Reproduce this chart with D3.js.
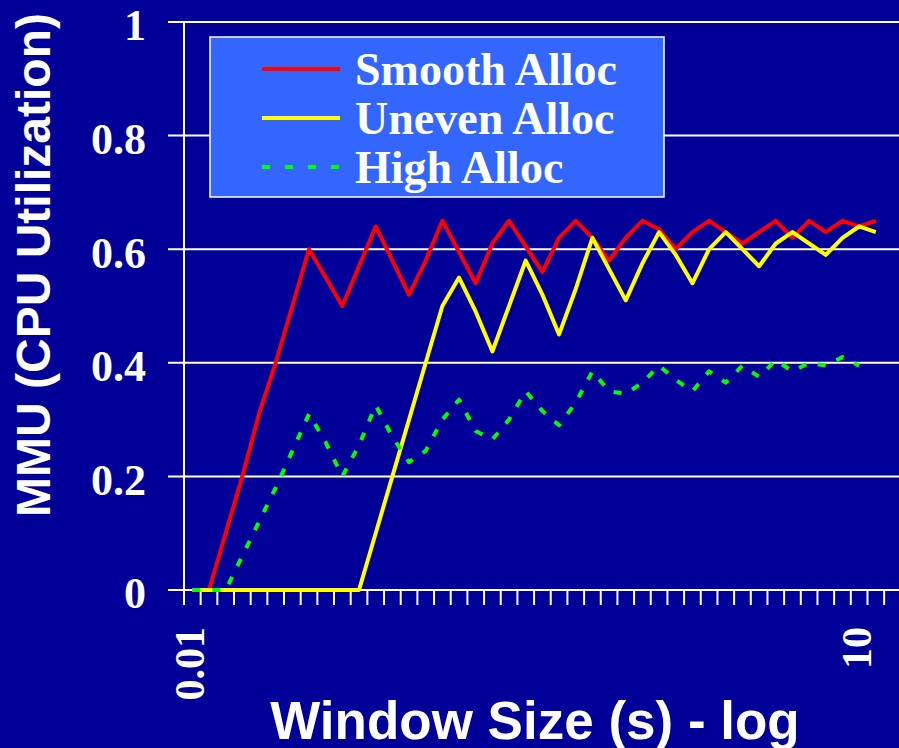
<!DOCTYPE html>
<html>
<head>
<meta charset="utf-8">
<script src="https://cdn.jsdelivr.net/npm/d3@7"></script>
<style>
  html, body { margin: 0; padding: 0; background: #000099; }
  svg { display: block; }
</style>
</head>
<body>
<svg id="chart" width="899" height="748"></svg>
<script>
// window sizes (s), one category per quarter-doubling
const windowSizes = [0.01, 0.01189, 0.01414, 0.01682, 0.02, 0.02378, 0.02828, 0.03364,
  0.04, 0.04757, 0.05657, 0.06727, 0.08, 0.09514, 0.11314, 0.13454,
  0.16, 0.19027, 0.22627, 0.26909, 0.32, 0.38055, 0.45255, 0.53817,
  0.64, 0.7611, 0.9051, 1.07635, 1.28, 1.5222, 1.8102, 2.1527,
  2.56, 3.0444, 3.6204, 4.3054, 5.12, 6.0887, 7.2408, 8.6108,
  10.24, 12.177, 14.482];
const xLabelAt = [0.01, 10.24];
const xLabelText = ["0.01", "10"];
const yTicks = [0, 0.2, 0.4, 0.6, 0.8, 1];

const smoothAlloc = [0, 0, 0.10, 0.20, 0.31, 0.40, 0.50, 0.60, 0.55, 0.50, 0.57, 0.64,
  0.58, 0.52, 0.58, 0.65, 0.595, 0.54, 0.61, 0.65, 0.605, 0.56, 0.62, 0.65,
  0.62, 0.58, 0.62, 0.65, 0.635, 0.60, 0.63, 0.65, 0.63, 0.61, 0.63, 0.65,
  0.62, 0.65, 0.63, 0.65, 0.64, 0.65];
const unevenAlloc = [0, 0, 0, 0, 0, 0, 0, 0, 0, 0, 0, 0.10,
  0.20, 0.30, 0.40, 0.50, 0.55, 0.49, 0.42, 0.50, 0.58, 0.52, 0.45, 0.53,
  0.62, 0.565, 0.51, 0.575, 0.63, 0.59, 0.54, 0.60, 0.63, 0.60, 0.57, 0.61,
  0.63, 0.61, 0.59, 0.62, 0.64, 0.63];
const highAlloc = [0, 0, 0, 0.06, 0.12, 0.18, 0.245, 0.31, 0.26, 0.20, 0.255, 0.325,
  0.27, 0.225, 0.245, 0.30, 0.335, 0.28, 0.265, 0.30, 0.35, 0.315, 0.29, 0.33,
  0.385, 0.35, 0.345, 0.365, 0.395, 0.37, 0.35, 0.385, 0.365, 0.395, 0.375, 0.405,
  0.385, 0.40, 0.395, 0.41, 0.395];

const seriesNames = ["Smooth Alloc", "Uneven Alloc", "High Alloc"];
const seriesColors = ["#ff0000", "#ffff00", "#00ff00"];

const W = 899, H = 748;
const plotLeft = 184, plotBottom = 590, plotTop = 22;

const svg = d3.select("#chart");
svg.append("rect").attr("width", W).attr("height", H).attr("fill", "#000099");

const x = d3.scaleBand().domain(windowSizes).range([plotLeft, plotLeft + 16.67 * windowSizes.length]);
const y = d3.scaleLinear().domain([0, 1]).range([plotBottom, plotTop]);

// horizontal grid + y ticks
svg.append("g").selectAll("line").data(yTicks).join("line")
  .attr("x1", plotLeft - 16).attr("x2", W)
  .attr("y1", d => y(d)).attr("y2", d => y(d))
  .attr("stroke", "#fff").attr("stroke-width", 2);

svg.append("g").selectAll("text").data(yTicks).join("text")
  .attr("x", 146).attr("y", d => y(d)).attr("dy", "0.42em")
  .attr("text-anchor", "end")
  .attr("font-family", "Liberation Serif, Times New Roman, serif")
  .attr("font-weight", "bold").attr("font-size", 44).attr("fill", "#fff")
  .text(d => d3.format("~g")(d));

// y axis line
svg.append("line").attr("x1", plotLeft).attr("x2", plotLeft).attr("y1", plotTop).attr("y2", plotBottom)
  .attr("stroke", "#fff").attr("stroke-width", 2);

// x tick marks at category boundaries
svg.append("g").selectAll("line").data(windowSizes).join("line")
  .attr("x1", d => x(d)).attr("x2", d => x(d))
  .attr("y1", plotBottom).attr("y2", plotBottom + 15)
  .attr("stroke", "#fff").attr("stroke-width", 2);

svg.append("g").selectAll("text").data(xLabelAt).join("text")
  .attr("transform", d => `translate(${x(d) + x.bandwidth() / 2 - 3},627) rotate(-90)`)
  .attr("text-anchor", "end").attr("dy", "0.35em")
  .attr("font-family", "Liberation Serif, Times New Roman, serif")
  .attr("font-weight", "bold").attr("font-size", 42).attr("fill", "#fff")
  .text((d, i) => xLabelText[i]);

// series
const line = d3.line()
  .x((d, i) => x(windowSizes[i]) + x.bandwidth() / 2)
  .y(d => y(d));

[smoothAlloc, unevenAlloc, highAlloc].forEach((vals, i) => {
  svg.append("path").datum(vals)
    .attr("d", line)
    .attr("fill", "none")
    .attr("stroke", seriesColors[i])
    .attr("stroke-width", 4)
    .attr("stroke-linejoin", "round")
    .attr("stroke-dasharray", i === 2 ? "8,12" : null);
});

// legend
const lg = svg.append("g");
lg.append("rect").attr("x", 210).attr("y", 37).attr("width", 454).attr("height", 160)
  .attr("fill", "#3366ff").attr("stroke", "#fff").attr("stroke-width", 1.5);
seriesNames.forEach((name, i) => {
  const ly = 69 + i * 49;
  lg.append("line").attr("x1", 262).attr("x2", 340).attr("y1", ly).attr("y2", ly)
    .attr("stroke", seriesColors[i]).attr("stroke-width", 4)
    .attr("stroke-dasharray", i === 2 ? "8,15" : null);
  lg.append("text").attr("x", 355).attr("y", ly + 16)
    .attr("font-family", "Liberation Serif, Times New Roman, serif")
    .attr("font-weight", "bold").attr("font-size", 46).attr("fill", "#fff")
    .text(name);
});

// axis titles
svg.append("text")
  .attr("transform", "translate(50,265) rotate(-90)")
  .attr("text-anchor", "middle")
  .attr("font-family", "Liberation Sans, Arial, sans-serif")
  .attr("font-weight", "bold").attr("font-size", 48).attr("fill", "#fff")
  .text("MMU (CPU Utilization)");

svg.append("text")
  .attr("x", 535).attr("y", 739)
  .attr("text-anchor", "middle")
  .attr("font-family", "Liberation Sans, Arial, sans-serif")
  .attr("font-weight", "bold").attr("font-size", 53).attr("fill", "#fff")
  .text("Window Size (s) - log");
</script>
</body>
</html>
